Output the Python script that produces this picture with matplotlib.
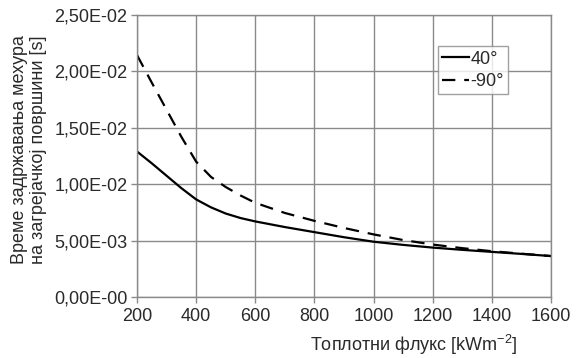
import matplotlib
matplotlib.use("Agg")
import matplotlib.pyplot as plt

flux = [200, 250, 300, 350, 400, 450, 500, 550, 600, 700, 800, 900, 1000, 1100, 1200, 1300, 1400, 1500, 1600]
t_40 = [1.29e-2, 1.185e-2, 1.075e-2, 9.65e-3, 8.65e-3, 7.95e-3, 7.4e-3, 7.0e-3, 6.7e-3, 6.2e-3, 5.75e-3, 5.3e-3,
        4.9e-3, 4.62e-3, 4.38e-3, 4.18e-3, 4.0e-3, 3.82e-3, 3.63e-3]
t_m90 = [2.145e-2, 1.9e-2, 1.66e-2, 1.42e-2, 1.2e-2, 1.065e-2, 9.75e-3, 9.0e-3, 8.35e-3, 7.45e-3, 6.75e-3, 6.12e-3,
         5.55e-3, 5.05e-3, 4.65e-3, 4.33e-3, 4.06e-3, 3.84e-3, 3.63e-3]
series_labels = ["40°", "-90°"]
x_ticks = [200, 400, 600, 800, 1000, 1200, 1400, 1600]
y_ticks = [0, 0.005, 0.010, 0.015, 0.020, 0.025]
y_tick_labels = ["0,00E-00", "5,00E-03", "1,00E-02", "1,50E-02", "2,00E-02", "2,50E-02"]
x_label = "Топлотни флукс [kWm$^{-2}$]"
y_label = "Време задржавања мехура\nна загрејачкој површини [s]"

plt.rcParams['font.family'] = ['Liberation Sans', 'DejaVu Sans']
plt.rcParams['mathtext.fontset'] = 'custom'
plt.rcParams['mathtext.rm'] = 'Liberation Sans'
plt.rcParams['mathtext.it'] = 'Liberation Sans'

fig = plt.figure(figsize=(5.76, 3.58), dpi=100)
ax = fig.add_axes([137/576, 1-297/358, (551-137)/576, (297-15)/358])

txt = '#2a2a2a'
grid_c = '#8a8a8a'
fs = 13

ax.plot(flux, t_40, color='black', lw=1.6, label=series_labels[0])
ax.plot(flux, t_m90, color='black', lw=1.6, dashes=(6, 4), label=series_labels[1])

ax.set_xlim(200, 1600)
ax.set_ylim(0, 0.025)
ax.set_xticks(x_ticks)
ax.set_xticklabels([str(v) for v in x_ticks])
ax.set_yticks(y_ticks)
ax.set_yticklabels(y_tick_labels)
ax.grid(True, color=grid_c, lw=1.0)
ax.set_axisbelow(True)
for s in ax.spines.values():
    s.set_color(grid_c)
    s.set_linewidth(1.0)
ax.tick_params(axis='both', colors=grid_c, labelcolor=txt, labelsize=fs, length=4, width=1.0, direction='out')
ax.tick_params(axis='x', pad=4)
ax.tick_params(axis='y', pad=3)

leg = ax.legend(loc='upper right', bbox_to_anchor=(0.897, 0.89), fontsize=fs, frameon=True,
                fancybox=False, handlelength=1.5, handletextpad=0.05, borderpad=0.25,
                labelspacing=0.3, borderaxespad=0.0)
leg.get_frame().set_edgecolor(grid_c)
leg.get_frame().set_linewidth(1.0)
for t in leg.get_texts():
    t.set_color(txt)

fig.text(414/576, 1-345/358, x_label, ha='center', va='center', fontsize=fs, color=txt)
fig.text(29/576, 1-150/358, y_label, ha='center', va='center', fontsize=fs, color=txt,
         rotation=90, linespacing=1.2)

fig.savefig("out.png", dpi=100)
